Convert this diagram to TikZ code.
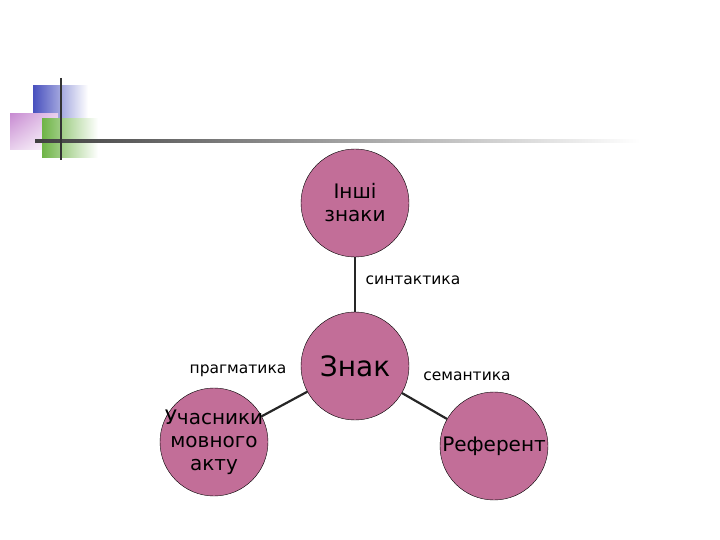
\documentclass[tikz,border=0pt]{standalone}
\usepackage{fontspec}
\setmainfont{DejaVu Sans}
\usepackage{tikz}
\usetikzlibrary{positioning,shadings}
\usepackage{xcolor}
\definecolor{signpink}{RGB}{194,110,152}
\definecolor{decoblue}{RGB}{72,80,190}
\definecolor{decopink}{RGB}{200,140,210}
\definecolor{decogreen}{RGB}{110,180,70}
\tikzstyle{link} = [line width=2.2pt, color=black!85]
\tikzstyle{sign} = [circle, minimum size=108pt, inner sep=-10pt, draw=black, fill=signpink, text centered, align=center, font=\fontsize{20}{23}\selectfont]
\tikzstyle{relation} = [font=\fontsize{15.5}{18}\selectfont]

\begin{document}
\begin{tikzpicture}[x=1pt, y=-1pt]
\useasboundingbox (0,0) rectangle (720,540);
% Decoration top left
\shade[left color=decoblue, right color=white] (33,86) rectangle (88,120);
\shade[upper left=decopink, lower right=white, upper right=decopink!40, lower left=decopink!40] (10,114) rectangle (58,150);
\shade[left color=decogreen, right color=white] (42,119) rectangle (98,158);
\shade[left color=black!75, right color=white] (35,140) rectangle (640,142.5);
\draw[line width=1.8pt, color=black!80] (61,78) -- (61,160);

% Sign nodes
\node (sign) [sign, font=\fontsize{28}{32}\selectfont] at (355,366) {Знак};
\node (other) [sign] at (355,203) {Інші\\знаки};
\node (users) [sign] at (214,442) {Учасники\\мовного\\акту};
\node (referent) [sign] at (494,446) {Референт};

% Links
\draw[link] (other) -- (sign);
\draw[link] (sign) -- (users);
\draw[link] (sign) -- (referent);

% Relation labels
\node[relation] at (413,280) {синтактика};
\node[relation] at (238,371) {прагматика};
\node[relation] at (467,376) {семантика};
\end{tikzpicture}
\end{document}
